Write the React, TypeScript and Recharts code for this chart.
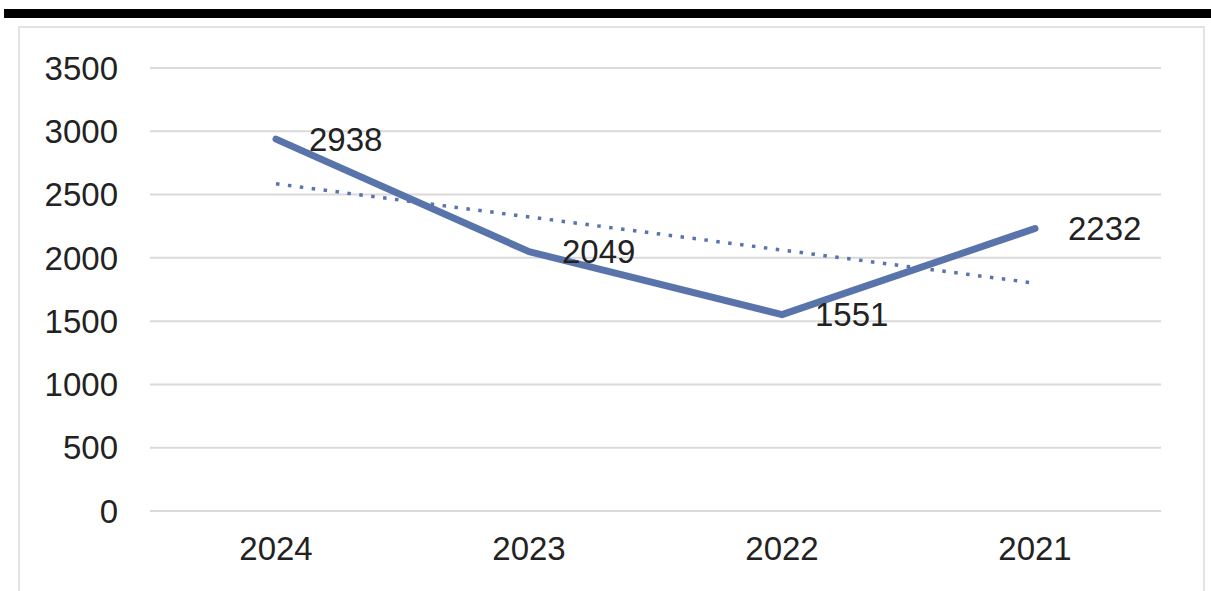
import { LineChart, Line, XAxis, YAxis, CartesianGrid, LabelList } from 'recharts'

const years = ['2024', '2023', '2022', '2021']
const counts = [2938, 2049, 1551, 2232]
// linear trend, only the two ends
const trend = [2585, null, null, 1800]
const yTicks = [0, 500, 1000, 1500, 2000, 2500, 3000, 3500]

const LINE_COLOR = '#5874ab'
const TEXT_COLOR = '#222222'
const FONT = '"Liberation Sans", Arial, sans-serif'

export default function App() {
  const chartData = years.map((year, i) => ({
    year,
    value: counts[i],
    trend: trend[i],
  }))

  return (
    <div
      style={{
        position: 'absolute',
        left: 0,
        top: 0,
        width: 1211,
        height: 591,
        overflow: 'hidden',
        background: '#fff',
        fontFamily: FONT,
      }}
    >
      {/* black bar along the top */}
      <div style={{ position: 'absolute', left: 4, top: 9, width: 1207, height: 9, background: '#000' }} />
      {/* chart frame */}
      <div
        style={{
          position: 'absolute',
          left: 18,
          top: 26,
          width: 1183,
          height: 600,
          border: '2px solid #e3e3e3',
        }}
      />
      <div style={{ position: 'absolute', left: 0, top: 0 }}>
        <LineChart
          width={1211}
          height={591}
          data={chartData}
          margin={{ top: 68, right: 50, bottom: 0, left: 0 }}
        >
          <CartesianGrid vertical={false} stroke="#dadada" strokeWidth={2} />
          <XAxis
            dataKey="year"
            height={80}
            padding={{ left: 126, right: 126 }}
            axisLine={{ stroke: '#dadada', strokeWidth: 2 }}
            tickLine={false}
            tickSize={0}
            tickMargin={26}
            tick={{ fill: TEXT_COLOR, fontSize: 33, fontFamily: FONT }}
          />
          <YAxis
            width={150}
            domain={[0, 3500]}
            ticks={yTicks}
            axisLine={false}
            tickLine={false}
            tickSize={0}
            tickMargin={32}
            tick={{ fill: TEXT_COLOR, fontSize: 33, fontFamily: FONT }}
          />
          <Line
            type="linear"
            dataKey="trend"
            stroke={LINE_COLOR}
            strokeWidth={3.5}
            strokeDasharray="3.5 8.5"
            connectNulls
            dot={false}
            activeDot={false}
            isAnimationActive={false}
          />
          <Line
            type="linear"
            dataKey="value"
            stroke={LINE_COLOR}
            strokeWidth={7}
            strokeLinecap="round"
            strokeLinejoin="round"
            dot={false}
            activeDot={false}
            isAnimationActive={false}
          >
            <LabelList
              dataKey="value"
              position="right"
              offset={33}
              fill={TEXT_COLOR}
              fontSize={33}
              fontFamily={FONT}
            />
          </Line>
        </LineChart>
      </div>
    </div>
  )
}
